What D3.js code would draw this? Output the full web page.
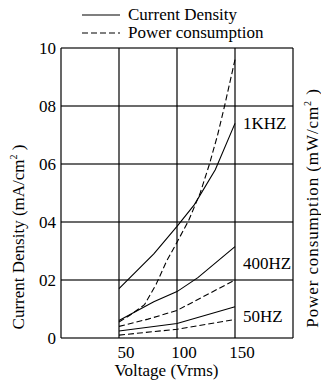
<!DOCTYPE html>
<html><head><meta charset="utf-8">
<script src="https://cdn.jsdelivr.net/npm/d3@7"></script>
<style>
html,body{margin:0;padding:0;background:#fff;}
</style></head>
<body><svg id="c" width="321" height="382" font-family="'Liberation Serif', 'DejaVu Serif', serif"></svg>
<script>
const yTicks = [0, 2, 4, 6, 8, 10];
const yTickLabels = ["0", "02", "04", "06", "08", "10"];
const xTicks = [50, 100, 150];
const xGrid = [0, 50, 100, 150, 200];

const cd1k = [[50,1.7],[80,2.9],[100,3.85],[115,4.6],[133,5.8],[150,7.4]];
const pc1k = [[50,0.55],[60,0.8],[72,1.15],[82,1.85],[91,2.65],[100,3.3],[110,4.05],[120,5.0],[128,6.0],[135,7.0],[141,8.0],[150,9.6]];
const cd400 = [[50,0.6],[80,1.25],[100,1.6],[118,2.08],[150,3.15]];
const pc400 = [[50,0.4],[75,0.65],[100,0.95],[150,2.0]];
const cd50 = [[50,0.24],[100,0.5],[150,1.08]];
const pc50 = [[50,0.1],[100,0.3],[150,0.64]];

const series = [
  {name:"cd1k", data:cd1k, dash:false},
  {name:"pc1k", data:pc1k, dash:true},
  {name:"cd400", data:cd400, dash:false},
  {name:"pc400", data:pc400, dash:true},
  {name:"cd50", data:cd50, dash:false},
  {name:"pc50", data:pc50, dash:true}
];
const freqLabels = [{t:"1KHZ", y:7.4}, {t:"400HZ", y:2.6}, {t:"50HZ", y:0.75}];

const svg = d3.select("#c");
const x = d3.scaleLinear().domain([0,200]).range([61,293]);
const y = d3.scaleLinear().domain([0,10]).range([338,48]);

svg.append("g").selectAll("line").data(yTicks).join("line")
  .attr("x1", x(0)).attr("x2", x(200))
  .attr("y1", d=>y(d)).attr("y2", d=>y(d))
  .attr("stroke","#3a3a3a").attr("stroke-width",1.4);
svg.append("g").selectAll("line").data(xGrid).join("line")
  .attr("x1", d=>x(d)).attr("x2", d=>x(d))
  .attr("y1", y(0)).attr("y2", y(10))
  .attr("stroke","#000").attr("stroke-width",1.2);

svg.append("g").selectAll("text").data(yTicks).join("text")
  .attr("x", x(0)-5).attr("y", d=>y(d)+6)
  .attr("text-anchor","end").attr("font-size",17)
  .text((d,i)=>yTickLabels[i]);
svg.append("g").selectAll("text").data(xTicks).join("text")
  .attr("x", d=>x(d)+7).attr("y", 358)
  .attr("text-anchor","middle").attr("font-size",17)
  .text(d=>d);

svg.append("text").attr("x",166.5).attr("y",376).attr("text-anchor","middle")
  .attr("font-size",17).text("Voltage (Vrms)");

const yl = svg.append("text").attr("transform","translate(24,237) rotate(-90)")
  .attr("text-anchor","middle").attr("font-size",17);
yl.append("tspan").text("Current Density (mA/cm");
yl.append("tspan").attr("font-size",10).attr("dy",-7).text("2");
yl.append("tspan").attr("dy",7).text(" )");

const yr = svg.append("text").attr("transform","translate(318,208) rotate(-90)")
  .attr("text-anchor","middle").attr("font-size",17).attr("letter-spacing",0.9);
yr.append("tspan").text("Power consumption (mW/cm");
yr.append("tspan").attr("font-size",10).attr("dy",-7).text("2");
yr.append("tspan").attr("dy",7).text(" )");

const line = d3.line().x(d=>x(d[0])).y(d=>y(d[1]));
svg.append("g").selectAll("path").data(series).join("path")
  .attr("d", d=>line(d.data)).attr("fill","none")
  .attr("stroke","#000").attr("stroke-width",1.1)
  .attr("stroke-dasharray", d=>d.dash ? "6,3" : null);

svg.append("g").selectAll("text").data(freqLabels).join("text")
  .attr("x", x(150)+8).attr("y", d=>y(d.y)+6)
  .attr("font-size",17).text(d=>d.t);

const leg = [{t:"Current Density", dash:false, y:15},{t:"Power consumption", dash:true, y:33}];
const lg = svg.append("g");
lg.selectAll("line").data(leg).join("line")
  .attr("x1",82).attr("x2",120).attr("y1",d=>d.y).attr("y2",d=>d.y)
  .attr("stroke","#000").attr("stroke-width",1.1)
  .attr("stroke-dasharray", d=>d.dash ? "6,3" : null);
lg.selectAll("text").data(leg).join("text")
  .attr("x",128).attr("y",d=>d.y+5).attr("font-size",17).text(d=>d.t);
</script></body></html>
